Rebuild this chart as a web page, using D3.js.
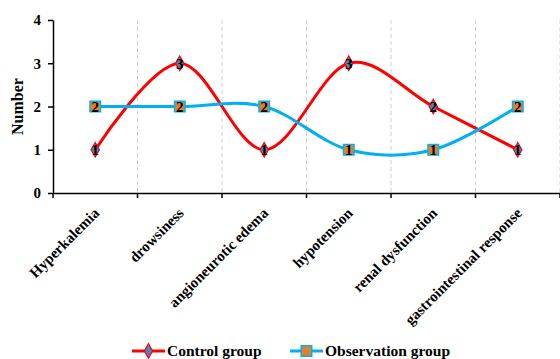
<!DOCTYPE html>
<html>
<head>
<meta charset="utf-8">
<script src="https://cdn.jsdelivr.net/npm/d3@7"></script>
<style>
  html, body { margin: 0; padding: 0; background: #fff; }
  svg { display: block; }
  svg text { font-family: "Liberation Serif", "Times New Roman", serif; font-weight: bold; }
</style>
</head>
<body>
<svg id="chart" width="560" height="359"></svg>
<script>
// Adverse reactions per group
const categories = ["Hyperkalemia", "drowsiness", "angioneurotic edema", "hypotension", "renal dysfunction", "gastrointestinal response"];
const controlValues = [1, 3, 1, 3, 2, 1];
const observationValues = [2, 2, 2, 1, 1, 2];
const yTicks = [0, 1, 2, 3, 4];
const seriesNames = ["Control group", "Observation group"];

const svg = d3.select("#chart");
const margin = { left: 53, right: 0, top: 20, bottom: 166 };
const W = 560, H = 359;
const plotW = W - margin.left - margin.right;
const plotH = H - margin.top - margin.bottom;

const x = d3.scaleBand().domain(categories).range([margin.left, margin.left + plotW]).padding(0);
const y = d3.scaleLinear().domain([0, 4]).range([margin.top + plotH, margin.top]);
const cx = d => x(d) + x.bandwidth() / 2;
const edge = i => margin.left + x.bandwidth() * i;

// dashed vertical separators between categories
svg.append("g").selectAll("line")
  .data(d3.range(1, categories.length + 1))
  .join("line")
  .attr("x1", edge).attr("x2", edge)
  .attr("y1", y(4)).attr("y2", y(0))
  .attr("stroke", "#d0d0d0").attr("stroke-width", 1).attr("stroke-dasharray", "4,3");

// y axis
const yAxis = svg.append("g")
  .attr("transform", `translate(${margin.left},0)`)
  .call(d3.axisLeft(y).tickValues(yTicks).tickFormat(d3.format("d")).tickSize(5).tickSizeOuter(0));
yAxis.select(".domain").attr("stroke", "#000").attr("stroke-width", 1.5);
yAxis.selectAll(".tick line").attr("stroke", "#000").attr("stroke-width", 1.5);
yAxis.selectAll(".tick text")
  .attr("font-size", 15).attr("font-family", "Liberation Serif").attr("font-weight", "bold")
  .attr("fill", "#000").attr("dx", -4);

// x axis line and category boundary ticks
const xAxis = svg.append("g")
  .attr("transform", `translate(0,${y(0)})`)
  .call(d3.axisBottom(x).tickSize(0).tickFormat(""));
xAxis.select(".domain").attr("stroke", "#000").attr("stroke-width", 1.5);
xAxis.selectAll(".tick").remove();
svg.append("g").selectAll("line")
  .data(d3.range(categories.length + 1))
  .join("line")
  .attr("x1", edge).attr("x2", edge)
  .attr("y1", y(0)).attr("y2", y(0) + 5)
  .attr("stroke", "#000").attr("stroke-width", 1.5);

// rotated category labels
svg.append("g").selectAll("text")
  .data(categories)
  .join("text")
  .attr("transform", d => `translate(${cx(d) + 5},${y(0) + 21}) rotate(-45)`)
  .attr("text-anchor", "end")
  .attr("font-size", 15)
  .attr("fill", "#000")
  .text(d => d);

// y axis title
svg.append("text")
  .attr("transform", `translate(23,${y(2)}) rotate(-90)`)
  .attr("text-anchor", "middle")
  .attr("font-size", 16)
  .attr("fill", "#000")
  .text("Number");

const line = d3.line().x((d, i) => cx(categories[i])).y(d => y(d)).curve(d3.curveCardinal.tension(0));

const red = "#ff0000", cyan = "#00b0f0", diamondFill = "#4f81bd", squareFill = "#e2802e";

svg.append("path").datum(controlValues).attr("d", line)
  .attr("fill", "none").attr("stroke", red).attr("stroke-width", 3);
svg.append("path").datum(observationValues).attr("d", line)
  .attr("fill", "none").attr("stroke", cyan).attr("stroke-width", 3);

const diamond = d3.symbol().type(d3.symbolDiamond).size(60);
const square = d3.symbol().type(d3.symbolSquare).size(110);

// control markers
svg.append("g").selectAll("path")
  .data(controlValues)
  .join("path")
  .attr("d", diamond)
  .attr("transform", (d, i) => `translate(${cx(categories[i])},${y(d)})`)
  .attr("fill", diamondFill).attr("stroke", red).attr("stroke-width", 1.2);

// observation markers
svg.append("g").selectAll("path")
  .data(observationValues)
  .join("path")
  .attr("d", square)
  .attr("transform", (d, i) => `translate(${cx(categories[i])},${y(d)})`)
  .attr("fill", squareFill).attr("stroke", cyan).attr("stroke-width", 1.5);

// value labels
function labels(vals) {
  svg.append("g").selectAll("text")
    .data(vals)
    .join("text")
    .attr("x", (d, i) => cx(categories[i]))
    .attr("y", d => y(d))
    .attr("dy", "0.35em")
    .attr("text-anchor", "middle")
    .attr("font-size", 15)
    .attr("fill", "#000")
    .text(d => d);
}
labels(controlValues);
labels(observationValues);

// legend
const legendY = 351;
const legend = svg.append("g");
const items = [
  { name: seriesNames[0], x0: 132, color: red, sym: diamond, fill: diamondFill, sw: 1.2 },
  { name: seriesNames[1], x0: 290, color: cyan, sym: square, fill: squareFill, sw: 1.5 }
];
items.forEach(it => {
  legend.append("line").attr("x1", it.x0).attr("x2", it.x0 + 33)
    .attr("y1", legendY).attr("y2", legendY)
    .attr("stroke", it.color).attr("stroke-width", 3);
  legend.append("path").attr("d", it.sym)
    .attr("transform", `translate(${it.x0 + 16.5},${legendY})`)
    .attr("fill", it.fill).attr("stroke", it.color).attr("stroke-width", it.sw);
  legend.append("text").attr("x", it.x0 + 35).attr("y", legendY).attr("dy", "0.3em")
    .attr("font-size", 15.5).attr("fill", "#000").text(it.name);
});
</script>
</body>
</html>
